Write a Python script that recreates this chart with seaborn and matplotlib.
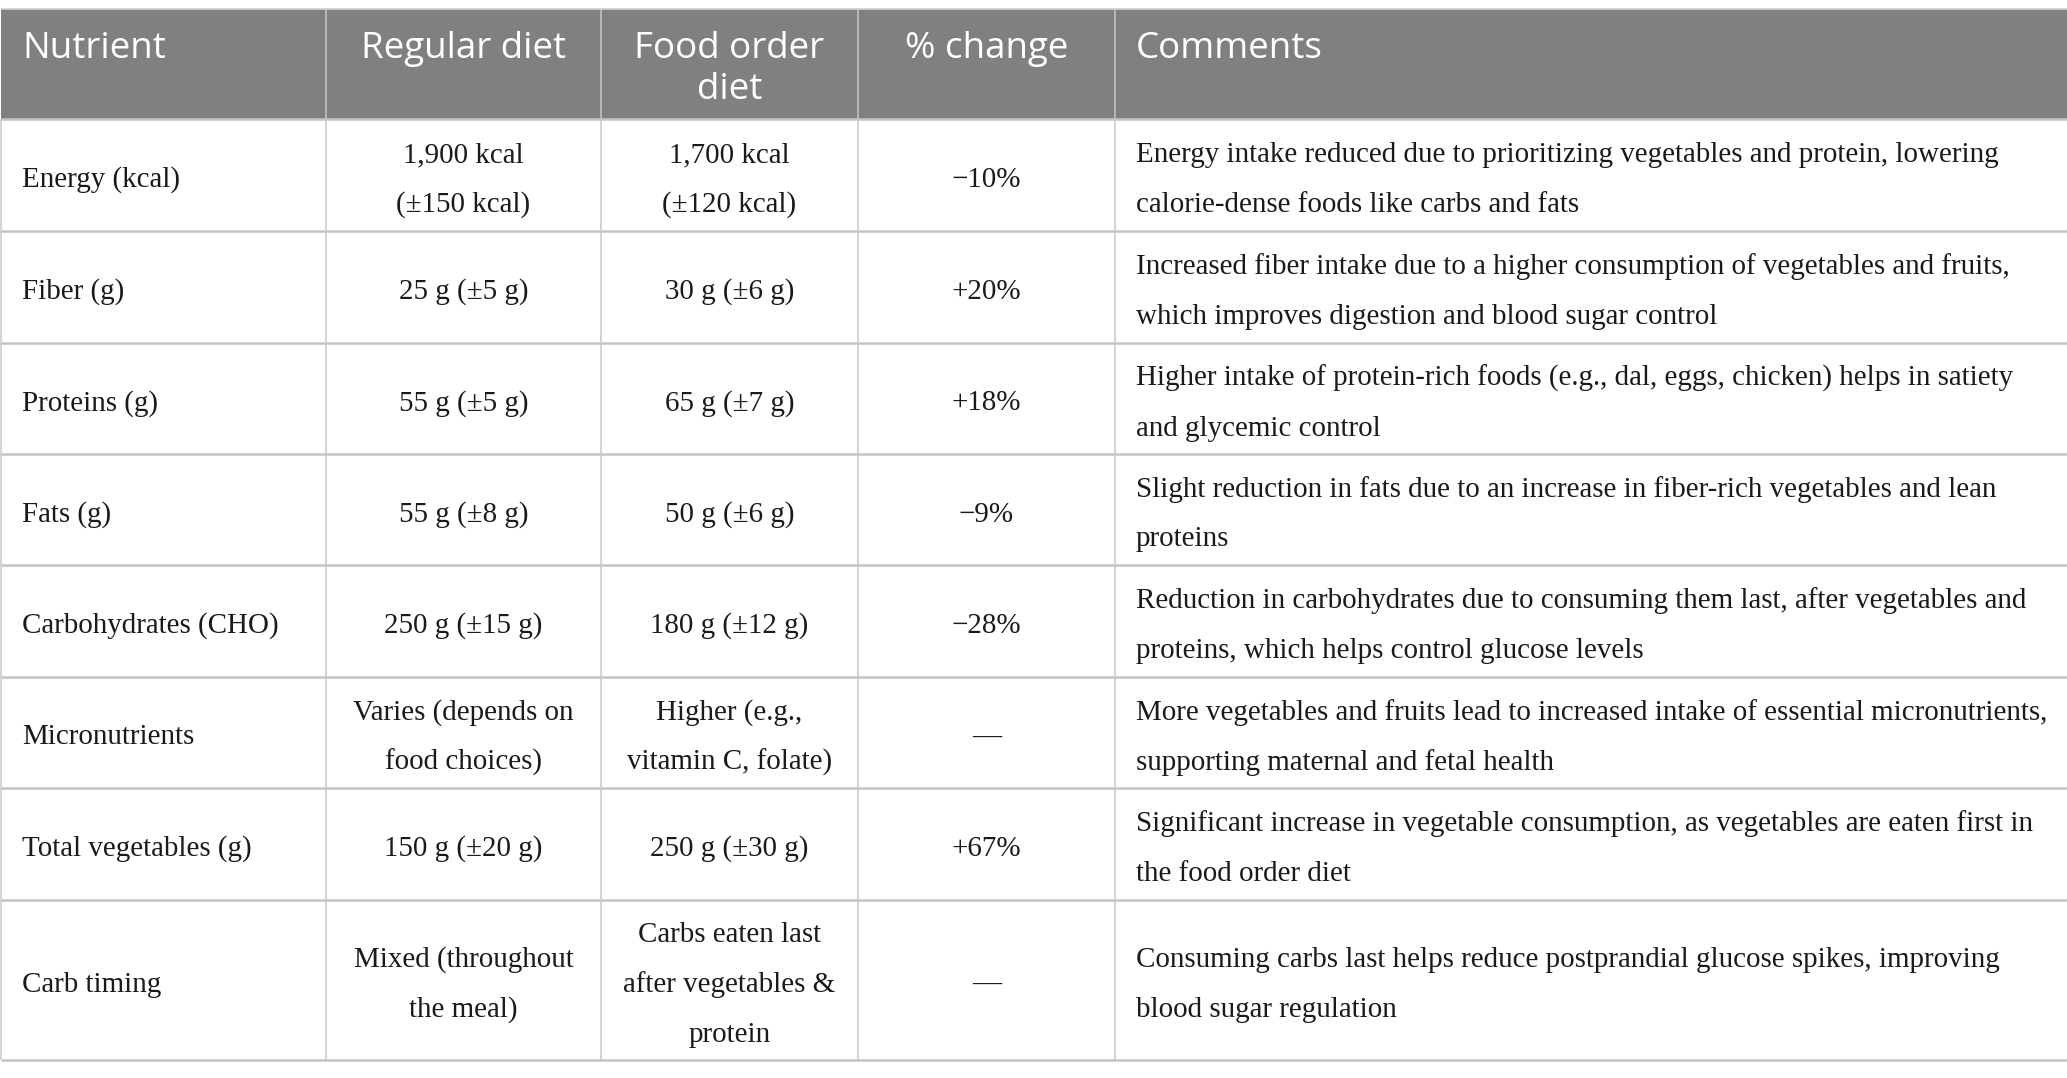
import matplotlib
matplotlib.use("Agg")
import matplotlib.pyplot as plt
import seaborn as sns
from matplotlib.patches import Rectangle

# table content
headers = ["Nutrient", "Regular diet", "Food order\ndiet", "% change", "Comments"]

nutrients = [
    "Energy (kcal)",
    "Fiber (g)",
    "Proteins (g)",
    "Fats (g)",
    "Carbohydrates (CHO)",
    "Micronutrients",
    "Total vegetables (g)",
    "Carb timing",
]

regular_diet = [
    "1,900 kcal\n(±150 kcal)",
    "25 g (±5 g)",
    "55 g (±5 g)",
    "55 g (±8 g)",
    "250 g (±15 g)",
    "Varies (depends on\nfood choices)",
    "150 g (±20 g)",
    "Mixed (throughout\nthe meal)",
]

food_order_diet = [
    "1,700 kcal\n(±120 kcal)",
    "30 g (±6 g)",
    "65 g (±7 g)",
    "50 g (±6 g)",
    "180 g (±12 g)",
    "Higher (e.g.,\nvitamin C, folate)",
    "250 g (±30 g)",
    "Carbs eaten last\nafter vegetables &\nprotein",
]

pct_change = ["\u221210%", "+20%", "+18%", "\u22129%", "\u221228%", "\u2014", "+67%", "\u2014"]

comments = [
    "Energy intake reduced due to prioritizing vegetables and protein, lowering\n"
    "calorie-dense foods like carbs and fats",
    "Increased fiber intake due to a higher consumption of vegetables and fruits,\n"
    "which improves digestion and blood sugar control",
    "Higher intake of protein-rich foods (e.g., dal, eggs, chicken) helps in satiety\n"
    "and glycemic control",
    "Slight reduction in fats due to an increase in fiber-rich vegetables and lean\n"
    "proteins",
    "Reduction in carbohydrates due to consuming them last, after vegetables and\n"
    "proteins, which helps control glucose levels",
    "More vegetables and fruits lead to increased intake of essential micronutrients,\n"
    "supporting maternal and fetal health",
    "Significant increase in vegetable consumption, as vegetables are eaten first in\n"
    "the food order diet",
    "Consuming carbs last helps reduce postprandial glucose spikes, improving\n"
    "blood sugar regulation",
]


def draw_lines(ax, text, x, y_mid, gap, ha, **kw):
    """Draw multi-line text one line at a time, centred on y_mid."""
    lines = text.split("\n")
    y0 = y_mid - gap * (len(lines) - 1) / 2
    for i, line in enumerate(lines):
        ax.text(x, y0 + i * gap, line, ha=ha, va="center", **kw)


def main():
    sns.set_theme(style="white")
    plt.rcParams["font.family"] = ["Liberation Serif", "DejaVu Serif"]

    W, H = 2067, 1078
    fig = plt.figure(figsize=(W / 100, H / 100), dpi=100)
    ax = fig.add_axes([0, 0, 1, 1])
    ax.set_xlim(0, W)
    ax.set_ylim(H, 0)
    ax.axis("off")

    # layout
    col_edges = [1, 326, 601, 858, 1115, 2067]
    head_top, head_bot = 9, 119
    row_heights = [112, 112, 111, 111, 112, 111, 112, 160]
    pad = 21
    body_gap = 50
    head_gap = 41
    text_shift = 5

    row_edges = [head_bot]
    for h in row_heights:
        row_edges.append(row_edges[-1] + h)

    head_color = "#808080"
    line_color = "#c4c4c4"
    text_color = "#1a1a1a"

    ax.add_patch(Rectangle((col_edges[0], head_top), col_edges[-1] - col_edges[0],
                           head_bot - head_top, facecolor=head_color, edgecolor="none", zorder=0))

    # header text
    aligns = ["left", "center", "center", "center", "left"]
    for j, label in enumerate(headers):
        if aligns[j] == "left":
            x = col_edges[j] + pad
        else:
            x = (col_edges[j] + col_edges[j + 1]) / 2
        for i, line in enumerate(label.split("\n")):
            ax.text(x, 49 + i * head_gap, line, ha=aligns[j], va="center",
                    color="white", fontsize=26.5, family=["Open Sans", "DejaVu Sans"])

    # body text
    columns = [nutrients, regular_diet, food_order_diet, pct_change, comments]
    for r in range(len(nutrients)):
        y_mid = (row_edges[r] + row_edges[r + 1]) / 2 + text_shift
        for j, col in enumerate(columns):
            if aligns[j] == "left":
                x = col_edges[j] + pad
            else:
                x = (col_edges[j] + col_edges[j + 1]) / 2
            draw_lines(ax, col[r], x, y_mid, body_gap, aligns[j],
                       color=text_color, fontsize=20.9)

    # grid lines
    ax.hlines([head_top], col_edges[0], col_edges[-1], color="#d0d0d0", lw=1.2, zorder=3)
    ax.hlines(row_edges, col_edges[0], col_edges[-1], color=line_color, lw=1.8, zorder=3)
    ax.vlines(col_edges[1:-1], head_top, row_edges[-1], color="#c8c8c8", lw=1.1, zorder=3)
    ax.vlines([col_edges[0]], head_bot, row_edges[-1], color="#c8c8c8", lw=1.1, zorder=3)

    fig.savefig("out.png", dpi=100)


if __name__ == "__main__":
    main()
